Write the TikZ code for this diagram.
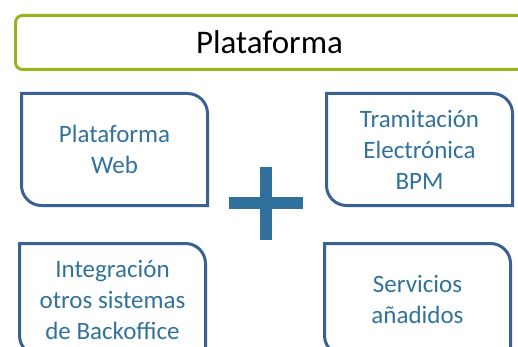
\documentclass[tikz,border=0pt]{standalone}
\usepackage{fontspec}
\setmainfont{Carlito}
\usetikzlibrary{positioning}

\definecolor{verde}{HTML}{9AB21C}
\definecolor{azulborde}{HTML}{3A6192}
\definecolor{azultexto}{HTML}{31729C}
\definecolor{azulmas}{HTML}{31709A}

\tikzset{
  modulo/.style={rectangle, minimum width=186pt, minimum height=112pt, inner sep=0pt, outer sep=0pt,
    align=center, text=azultexto, font=\fontsize{25}{31}\selectfont},
  borde/.style={draw=azulborde, line width=3pt}
}

\begin{document}
\begin{tikzpicture}[x=1pt, y=-1pt, node distance=150pt]
  \useasboundingbox (0,0) rectangle (518,347);
  % Cabecera
  \node (plataforma) [rectangle, draw=verde, line width=3pt, rounded corners=7pt, minimum width=508pt, minimum height=54pt,
    font=\fontsize{33}{40}\selectfont] at (269.5,42.5) {Plataforma};

  % Modulos
  \node (web) [modulo] at (114.5,149.5) {Plataforma\\Web};
  \node (tramitacion) [modulo, right of=web, node distance=305pt] {Tramitación\\Electrónica\\BPM};
  \node (integracion) [modulo, below of=web, xshift=-2pt] {Integración\\otros sistemas\\de Backoffice};
  \node (servicios) [modulo, right of=integracion, node distance=305pt] {Servicios\\añadidos};

  % Bordes: esquinas redondeadas arriba-derecha y abajo-izquierda
  \foreach \n in {web,tramitacion,integracion,servicios}
    \draw[borde] (\n.north) [rounded corners=20pt] -- (\n.north east) [sharp corners] -- (\n.south east)
      [rounded corners=20pt] -- (\n.south west) [sharp corners] -- (\n.north west) -- cycle;

  % Signo mas
  \fill[azulmas] (229,197) rectangle (303,209);
  \fill[azulmas] (260,167) rectangle (272,240);
\end{tikzpicture}
\end{document}
